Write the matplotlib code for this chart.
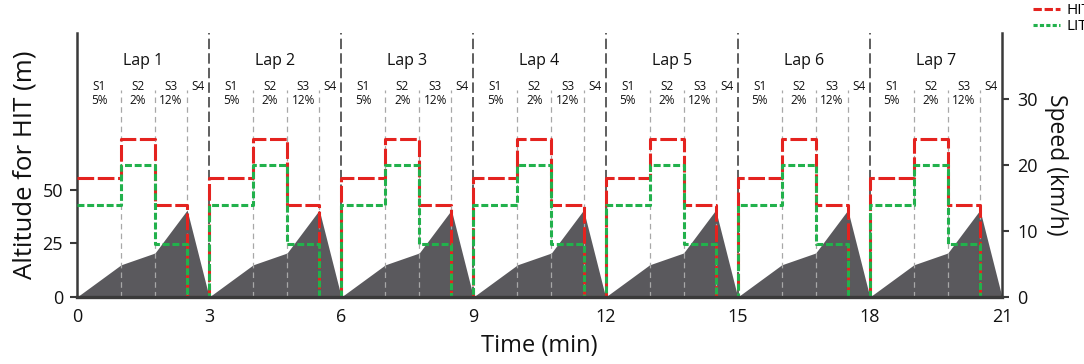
import matplotlib
matplotlib.use("Agg")
import matplotlib.pyplot as plt
from matplotlib.lines import Line2D
import numpy as np

plt.rcParams['font.family'] = ['Open Sans', 'DejaVu Sans']
plt.rcParams['lines.scale_dashes'] = False

# ---- data ----
n_laps = 7
lap_minutes = 3.0
section_bounds = [0.0, 1.0, 1.77, 2.5, 3.0]          # minutes within a lap
hit_speed = [18, 24, 14, 0]                          # km/h per section
lit_speed = [14, 20, 8, 0]                           # km/h per section
altitude = [0, 15, 20.5, 40.5, 0]                    # m at section bounds
section_labels = ['S1', 'S2', 'S3', 'S4']
section_grades = ['5%', '2%', '12%', '']
lap_labels = ['Lap 1', 'Lap 2', 'Lap 3', 'Lap 4', 'Lap 5', 'Lap 6', 'Lap 7']
x_ticks = [0, 3, 6, 9, 12, 15, 18, 21]
alt_ticks = [0, 25, 50]
speed_ticks = [0, 10, 20, 30]

# ---- build series ----
t_alt, a_vals = [], []
t_step, hit_vals, lit_vals = [], [], []
for lap in range(n_laps):
    off = lap * lap_minutes
    for b, a in zip(section_bounds, altitude):
        t_alt.append(off + b)
        a_vals.append(a)
    for b, h, l in zip(section_bounds[:-1], hit_speed, lit_speed):
        t_step.append(off + b)
        hit_vals.append(h)
        lit_vals.append(l)
t_step.append(n_laps * lap_minutes)
hit_vals.append(hit_speed[-1])
lit_vals.append(lit_speed[-1])

fig = plt.figure(figsize=(10.84, 3.64), dpi=100)
W, H = 1084, 364
ax = fig.add_axes([77 / W, (H - 297) / H, (1002 - 77) / W, (297 - 33) / H])
ax2 = ax.twinx()

spine_col = '#3a3a3a'
fill_col = '#5a595d'
red = '#e4231f'
green = '#22b14c'

ax.fill_between(t_alt, 0, a_vals, color=fill_col, linewidth=0, zorder=1)
ax.set_xlim(0, 21)
ax.set_ylim(0, 123)
ax2.set_ylim(0, 40)

# lap separators and section lines
for lap in range(n_laps):
    off = lap * lap_minutes
    if lap > 0:
        ax2.plot([off, off], [0, 40], color='#333333', lw=1.1,
                 linestyle=(0, (7.5, 3)), zorder=2)
    for b in section_bounds[1:-1]:
        ax2.plot([off + b, off + b], [0, 31.4], color='#a8a8a8', lw=0.9,
                 linestyle=(0, (4, 3)), zorder=2)
    ax2.text(off + lap_minutes / 2, 35.8, lap_labels[lap], ha='center',
             va='center', fontsize=11.5, color='#111111')
    for i, (lab, g) in enumerate(zip(section_labels, section_grades)):
        xc = off + (section_bounds[i] + section_bounds[i + 1]) / 2
        ax2.text(xc, 31.9, lab, ha='center', va='center', fontsize=8.5,
                 color='#111111')
        if g:
            ax2.text(xc, 29.8, g, ha='center', va='center', fontsize=8.5,
                     color='#111111')

ax2.step(t_step, hit_vals, where='post', color=red, lw=2.2,
         linestyle=(0, (12, 2.6)), zorder=4, label='HIT')
ax2.step(t_step, lit_vals, where='post', color=green, lw=2.2,
         linestyle=(0, (5, 2)), zorder=5, label='LIT')

# axes styling
for a in (ax, ax2):
    a.spines['top'].set_visible(False)
    for s in ('left', 'right', 'bottom'):
        a.spines[s].set_color(spine_col)
        a.spines[s].set_linewidth(1.8)
ax2.spines['left'].set_visible(False)
ax.spines['right'].set_visible(False)
ax2.spines['bottom'].set_linewidth(2.4)
ax2.spines['bottom'].set_zorder(10)

ax.set_xticks(x_ticks)
ax.set_yticks(alt_ticks)
ax2.set_yticks(speed_ticks)
ax.tick_params(axis='x', length=0, pad=8, labelsize=13, colors='#111111')
ax.tick_params(axis='y', length=5, width=1.5, color=spine_col, labelsize=13,
               labelcolor='#111111', pad=5)
ax2.tick_params(axis='y', length=5, width=1.5, color=spine_col, labelsize=13,
                labelcolor='#111111', pad=6)

ax.set_xlabel('Time (min)', fontsize=17, color='#111111', labelpad=6)
ax.set_ylabel('Altitude for HIT (m)', fontsize=18.5, color='#111111',
              labelpad=4)
ax2.set_ylabel('Speed (km/h)', fontsize=16.5, color='#111111', rotation=270,
               labelpad=22)

handles = [Line2D([], [], color=red, lw=2.2, linestyle=(0, (6, 2))),
           Line2D([], [], color=green, lw=2.2, linestyle=(0, (3, 1.6)))]
fig.legend(handles, ['HIT', 'LIT'], loc='upper left',
           bbox_to_anchor=(1033 / W, 1 - 3.5 / H), frameon=False, fontsize=11,
           handlelength=1.75, handletextpad=0.45, labelspacing=0.05,
           borderpad=0, borderaxespad=0)

fig.savefig('out.png', dpi=100)
